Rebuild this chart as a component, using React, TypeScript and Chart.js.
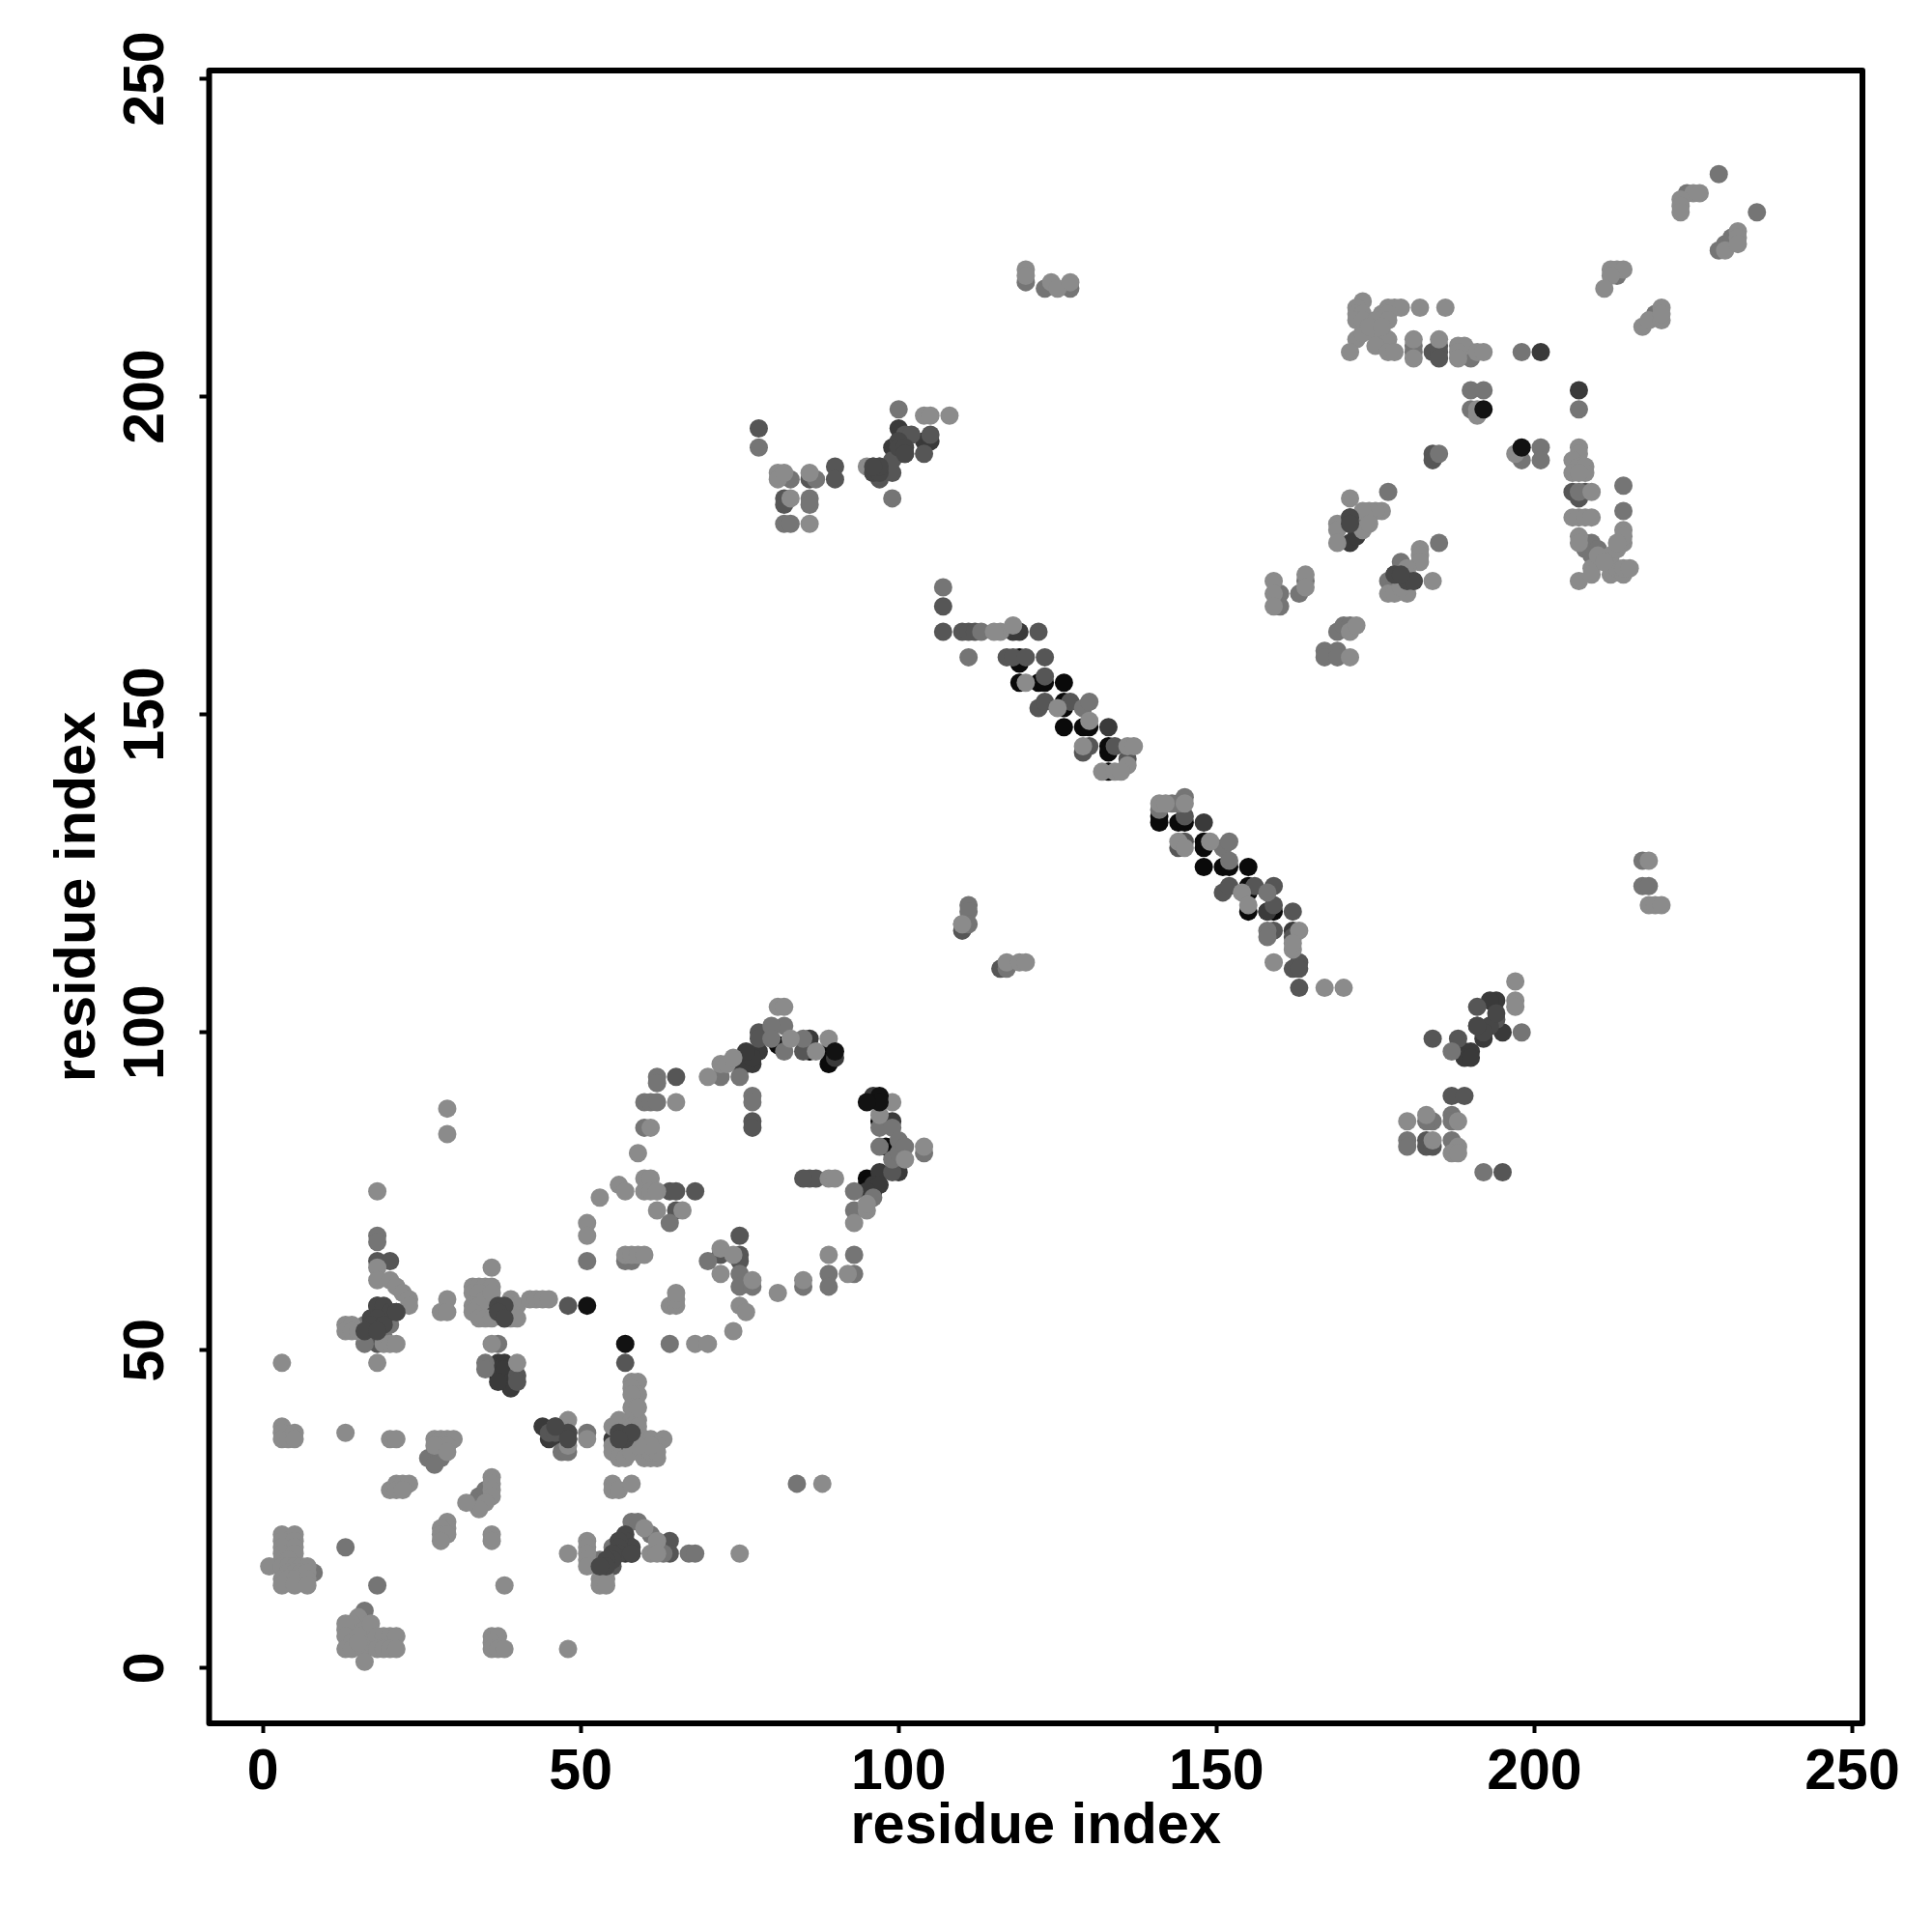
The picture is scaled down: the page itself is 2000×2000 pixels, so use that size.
import React, { useEffect, useRef } from "react";
import { Chart, registerables } from "chart.js";

Chart.register(...registerables);

type P = [number, number];

const tickValues = [0, 50, 100, 150, 200, 250];
const axisTitle = "residue index";

const blackPts: P[] = [
  [119,159],[119,158],[119,155],[122,155],[123,155],[126,155],[126,152],[126,151],[126,148],[129,148],[130,148],
  [133,145],[133,144],[133,141],[141,134],[141,133],[144,133],[145,133],[148,130],[148,129],[148,126],[151,126],[152,126],
  [155,126],[155,123],[155,122],[155,119],[158,119],[159,119],[97,86],[98,82],[95,77],[81,98],[86,97],[89,97],[89,95],
  [95,76],[96,75],[57,19],[37,46],
];
const darkerPts: P[] = [
  [133,148],[148,133],[207,201],[201,207],[37,48],[38,48],[37,47],[38,47],[39,45],[39,44],[37,45],[48,37],[48,36],[44,38],[47,36],[45,36],
  [18,57],[19,56],[21,56],[37,57],[38,55],[57,20],[57,18],[58,18],[77,95],[75,95],[76,95],[78,97],[77,96],[76,97],[86,99],[90,96],[96,90],
  [99,86],[100,78],[97,78],[96,76],[97,76],[95,75],[96,188],[97,188],[100,195],[99,192],[100,192],[101,191],[100,191],[100,193],[104,193],[105,193],
  [191,101],[192,99],[192,100],[193,101],[189,97],[190,97],[189,96],[190,96],[194,105],[193,105],[195,100],[171,181],[171,180],[171,177],[172,178],
  [178,172],[180,171],[181,171],[162,116],[158,119],[55,36],[56,36],[118,163],[119,163],
];
const darkPts: P[] = [
  [18,64],[20,64],[17,55],[18,55],[19,54],[17,53],[18,51],[48,57],[57,48],[36,56],[37,56],[38,57],[40,46],[40,45],[45,37],[46,37],[46,38],
  [64,20],[64,18],[55,17],[55,16],[56,19],[56,18],[54,17],[75,68],[72,65],[75,65],[75,64],[77,86],[77,85],[65,93],[68,75],[64,75],[65,75],[65,72],
  [85,97],[86,77],[87,77],[85,77],[78,100],[78,99],[99,78],[107,163],[110,163],[111,163],[112,163],[122,163],[117,159],[118,159],[120,159],[123,159],
  [123,156],[122,151],[123,152],[127,152],[130,145],[129,144],[134,145],[136,143],[145,134],[144,129],[145,130],[151,122],[152,123],[156,123],[159,123],
  [159,120],[162,119],[159,116],[162,115],[162,110],[163,111],[163,110],[163,107],[110,116],[116,110],[78,195],[82,184],[82,183],[86,187],[90,189],[90,187],
  [96,189],[97,189],[99,188],[101,194],[102,194],[105,194],[104,191],[99,190],[195,78],[187,90],[189,90],[183,83],[183,82],[184,82],[184,99],[188,99],
  [191,104],[194,102],[185,208],[184,207],[185,207],[185,206],[206,185],[208,185],[207,184],[184,191],[184,190],[57,37],[56,34],[107,167],[97,187],
];
const midPts: P[] = [
  [18,68],[18,67],[16,51],[16,54],[18,53],[19,52],[19,55],[20,54],[35,48],[35,47],[37,51],[47,34],[48,34],[51,37],[51,64],[57,64],[58,64],[13,19],[18,13],
  [8,15],[16,9],[33,26],[27,34],[26,33],[28,33],[27,32],[34,27],[35,28],[53,17],[55,19],[56,20],[61,21],[67,18],[68,18],[63,18],[58,23],[59,23],
  [84,29],[64,51],[60,89],[61,89],[62,89],[62,93],[62,92],[60,85],[70,64],[64,70],[75,93],[72,93],[75,62],[75,60],[77,60],[85,60],[89,62],[89,60],[93,65],[93,62],
  [93,75],[93,72],[96,74],[97,85],[99,85],[97,82],[100,83],[99,80],[100,81],[101,82],[104,81],[77,90],[77,89],[82,101],[80,101],[85,99],[82,97],[80,99],
  [107,170],[113,163],[111,159],[129,151],[130,152],[151,129],[152,130],[152,127],[158,122],[158,116],[158,115],[111,120],[111,119],[111,117],
  [78,192],[99,184],[100,198],[82,180],[83,180],[86,184],[86,183],[87,187],[83,187],[180,83],[180,82],[184,86],[183,86],[187,87],[187,86],[187,83],[187,97],[198,100],[192,78],
  [224,232],[230,224],[231,225],[213,219],[219,213],[160,169],[160,167],[163,169],[164,171],[177,185],[185,177],[185,191],[198,207],[190,201],[192,201],
  [190,198],[207,198],[198,190],[201,192],[201,190],[214,186],[214,182],[207,185],[229,235],[235,229],[229,223],[181,207],[181,208],[190,207],[190,206],
  [173,181],[172,180],[177,171],[178,171],[179,174],[169,163],[170,164],[171,164],[167,160],[167,159],[169,160],[169,159],[208,176],[209,175],[209,177],[208,177],[210,176],
  [123,217],[120,218],[127,217],[217,123],[218,123],[217,127],[110,117],[117,110],[144,136],[145,137],[141,135],[143,136],
];
const lightPts: P[] = [
  [3,48],[18,48],[18,63],[18,61],[20,61],[21,60],[22,59],[23,58],[23,57],[13,54],[14,54],[13,53],[14,53],[15,53],[19,51],[20,51],[21,51],[18,75],
  [29,58],[28,56],[29,56],[33,60],[34,60],[35,60],[36,60],[36,63],[33,59],[34,59],[35,58],[36,59],[33,57],[34,57],[33,56],[34,55],[35,55],[36,55],[39,58],[40,57],[39,56],[39,55],[38,56],[40,55],
  [42,58],[43,58],[44,58],[45,58],[36,51],[40,48],[29,88],[29,84],[57,65],[58,65],[59,65],[60,65],[68,51],[70,51],[74,53],[64,57],[65,57],[65,58],[65,59],
  [3,38],[3,37],[3,36],[4,36],[5,37],[5,36],[13,37],[20,36],[21,36],[27,36],[28,36],[29,36],[30,36],[28,35],[29,35],[27,35],[29,34],[48,39],[48,35],[51,36],
  [55,38],[55,35],[55,34],[56,39],[56,33],[57,33],[58,34],[58,39],[58,38],[59,37],[59,39],[59,38],[58,45],[59,45],[58,44],[59,43],[58,43],[58,41],[59,41],[60,36],[61,36],[63,36],[62,35],[60,33],[61,33],[62,33],[61,34],[62,34],[61,35],[59,35],
  [55,29],[55,28],[56,28],[58,29],[3,21],[5,21],[3,20],[5,20],[3,19],[5,19],[3,18],[5,18],[3,17],[4,17],[1,16],[3,16],[4,16],[5,16],[6,16],[7,16],[4,15],[5,15],[6,15],[7,15],[3,14],[4,14],[5,14],[7,14],[3,13],[5,13],[7,13],
  [38,13],[15,8],[14,7],[13,6],[13,7],[16,6],[17,7],[13,5],[14,4],[13,3],[14,3],[16,3],[16,1],[17,4],[18,5],[19,5],[20,5],[21,5],[18,3],[19,3],[20,3],[21,3],[15,5],[15,4],
  [36,5],[37,5],[36,4],[36,3],[37,3],[38,3],[48,3],[20,28],[21,29],[22,29],[23,29],[21,28],[22,28],[36,30],[36,29],[36,28],[36,27],[35,26],[34,25],[32,26],[29,23],[29,22],[28,22],[28,21],[29,21],[28,20],[36,21],[36,20],
  [48,18],[51,20],[51,19],[51,18],[51,17],[51,16],[60,22],[61,18],[62,20],[62,18],[53,14],[54,14],[53,13],[54,13],[75,18],[88,29],[81,104],[82,104],[83,99],[89,99],[87,97],
  [72,95],[73,95],[74,96],[70,93],[65,89],[61,85],[59,81],[60,77],[61,77],[60,75],[61,75],[62,75],[56,76],[57,75],[53,74],[62,72],[66,72],[51,70],[51,68],[72,66],[74,65],[72,62],[77,61],[75,57],[76,56],[81,59],[85,61],[89,65],[92,62],
  [99,89],[97,87],[104,82],[101,80],[95,72],[95,73],[93,70],[89,77],[90,77],[116,163],[115,163],[118,164],[120,155],[125,151],[130,149],[129,145],[136,145],[137,145],[136,142],[132,141],[134,141],[135,141],
  [141,136],[142,136],[145,136],[144,130],[145,129],[149,130],[154,122],[155,120],[163,116],[162,113],[162,114],[159,111],[110,117],[117,111],[119,111],[120,111],[167,107],[170,107],
  [81,188],[81,187],[82,188],[83,184],[86,180],[86,188],[95,189],[104,197],[105,197],[108,197],[180,86],[183,87],[184,83],[188,86],[188,82],[187,81],[188,81],[197,108],[197,105],[197,104],
  [225,232],[226,232],[223,231],[223,230],[223,229],[230,223],[232,226],[232,225],[232,224],[212,220],[213,220],[214,220],[212,219],[211,217],[217,211],[218,212],[220,214],[220,212],[220,213],
  [173,215],[172,214],[177,214],[178,214],[179,214],[182,214],[186,214],[172,213],[173,213],[176,213],[177,213],[172,212],[173,212],[175,212],[177,212],[172,209],[173,210],[175,210],[176,210],[177,209],[175,208],[171,207],[177,207],[178,207],[174,211],[176,211],
  [181,209],[181,206],[185,209],[188,208],[189,208],[188,207],[188,206],[191,207],[192,207],[191,198],[191,197],[197,191],[207,192],[207,191],[206,190],[207,189],[208,189],[206,188],[208,188],[207,188],[209,185],
  [206,181],[207,181],[208,181],[209,181],[207,178],[207,177],[209,173],[207,171],[209,172],[212,172],[213,173],[214,172],[214,173],[215,173],[212,175],[213,176],[214,177],[214,179],[214,178],[213,177],[210,175],[211,174],
  [171,184],[176,182],[175,182],[174,182],[173,182],[169,180],[169,179],[169,177],[173,179],[174,180],[182,176],[182,175],[182,174],[180,173],[184,171],[180,172],[177,169],[178,169],[180,169],[179,170],
  [159,171],[159,169],[159,167],[164,172],[164,170],[171,163],[172,164],[171,159],[120,220],[120,219],[124,218],[125,217],[127,218],[218,120],[219,120],[220,120],[218,127],
];
const upperDarkPts: P[] = [
  [18,57],[19,57],[20,56],[21,56],[17,55],[18,55],[17,54],[19,54],[16,53],[18,53],[37,57],[38,57],[37,56],[38,55],
  [48,37],[48,36],[46,38],[56,37],[57,36],[58,37],[56,36],
  [57,21],[57,20],[58,19],[56,20],[56,19],[56,18],[55,18],[55,17],[54,17],[54,16],[53,16],[58,18],
  [171,181],[171,180],[178,172],[180,171],[181,171],[179,172],
  [100,193],[100,192],[101,192],[101,191],[96,188],[97,188],[97,189],[96,189],[193,101],[192,100],[191,101],[194,103],
];
const topPts: P[] = [
  [51,57],[57,51],[192,198],[198,192],[90,97],[97,90],[97,89],[95,89],
];

const layers: { name: string; pts: P[]; color: string }[] = [
  { name: "top", pts: topPts, color: "#121212" },
  { name: "upperDark", pts: upperDarkPts, color: "#474747" },
  { name: "light", pts: lightPts, color: "#8b8b8b" },
  { name: "mid", pts: midPts, color: "#757575" },
  { name: "dark", pts: darkPts, color: "#565656" },
  { name: "darker", pts: darkerPts, color: "#3a3a3a" },
  { name: "black", pts: blackPts, color: "#0a0a0a" },
];

const frame = {
  id: "frame",
  afterDatasetsDraw(chart: Chart) {
    const { ctx, chartArea: a } = chart;
    ctx.save();
    ctx.strokeStyle = "#000";
    ctx.lineWidth = 6;
    ctx.lineJoin = "round";
    ctx.strokeRect(a.left, a.top, a.right - a.left, a.bottom - a.top);
    ctx.restore();
  },
};

const family = "'Liberation Sans', Arial, sans-serif";
const tickFont = { family, weight: "bold" as const, size: 59 };
const titleFont = { family, weight: "bold" as const, size: 59.5 };

export default function App() {
  const ref = useRef<HTMLCanvasElement>(null);
  useEffect(() => {
    document.body.style.margin = "0";
    document.body.style.background = "#fff";
    const axisBase = {
      type: "linear" as const,
      afterBuildTicks: (s: any) => {
        s.ticks = tickValues.map((value) => ({ value }));
      },
      grid: {
        drawOnChartArea: false,
        drawTicks: true,
        tickLength: 10,
        tickWidth: 4,
        tickColor: "#000",
      },
      border: { display: false },
    };
    const chart = new Chart(ref.current!, {
      type: "scatter",
      data: {
        datasets: layers.map((l) => ({
          label: l.name,
          data: l.pts.map(([x, y]) => ({ x, y })),
          backgroundColor: l.color,
          borderWidth: 0,
          pointRadius: 9.5,
          pointHoverRadius: 9.5,
        })),
      },
      options: {
        responsive: false,
        animation: false,
        layout: { padding: { left: 0, top: 73, right: 72, bottom: 0 } },
        plugins: { legend: { display: false }, tooltip: { enabled: false } },
        scales: {
          x: {
            ...axisBase,
            min: -8.45,
            max: 251.6,
            afterFit: (s: any) => {
              s.height = 216;
            },
            ticks: { font: tickFont, color: "#000", padding: 6, maxRotation: 0, autoSkip: false },
            title: {
              display: true,
              text: axisTitle,
              font: titleFont,
              color: "#000",
              padding: { top: 0, bottom: 73 },
            },
          },
          y: {
            ...axisBase,
            min: -8.7,
            max: 251.3,
            afterFit: (s: any) => {
              s.width = 216.5;
            },
            ticks: {
              font: tickFont,
              color: "#000",
              padding: 5,
              minRotation: 90,
              maxRotation: 90,
              crossAlign: "center",
              autoSkip: false,
            },
            title: {
              display: true,
              text: axisTitle,
              font: titleFont,
              color: "#000",
              padding: { top: 46, bottom: 0 },
            },
          },
        },
      },
      plugins: [frame],
    } as any);
    return () => chart.destroy();
  }, []);
  return <canvas ref={ref} width={2000} height={2000} style={{ display: "block", width: 2000, height: 2000 }} />;
}
